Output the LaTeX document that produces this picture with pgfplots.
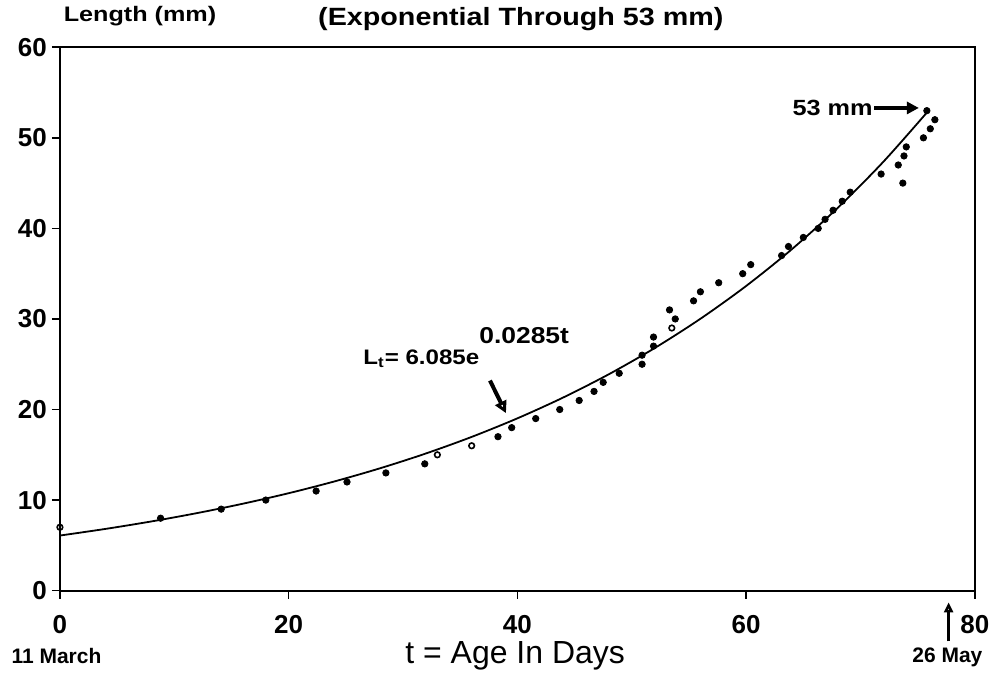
\documentclass[border=0pt]{standalone}
\usepackage{fontspec}
\setmainfont{Liberation Sans}
\newfontfamily\widefont[FakeStretch=1.15]{Liberation Sans}
\newfontfamily\wwidefont[FakeStretch=1.2]{Liberation Sans}
\usepackage{pgfplots}
\pgfplotsset{compat=1.18}
\usetikzlibrary{arrows.meta}
\begin{document}
\begin{tikzpicture}
\begin{axis}[
  at={(0,0)}, anchor=south west,
  scale only axis, width=458pt, height=272pt,
  xmin=0, xmax=80, ymin=0, ymax=60,
  xtick={0,20,40,60,80}, ytick={0,10,20,30,40,50,60},
  axis line style={line width=1pt},
  every tick/.style={black, line width=0.8pt},
  tick align=outside, major tick length=4pt,
  xtick pos=bottom, ytick pos=left,
  clip=false,
  /pgf/number format/assume math mode=true,
  ticklabel style={font=\bfseries\fontsize{13}{14}\selectfont},
  xticklabel style={yshift=-5pt},
  yticklabel style={xshift=1pt},
]
% fitted curve L = 6.085 exp(0.0285 t), values tabulated
\addplot[black, line width=0.9pt, smooth] coordinates {
 (0,6.085) (4,6.820) (8,7.643) (12,8.566) (16,9.601) (20,10.760)
 (24,12.059) (28,13.515) (32,15.147) (36,16.976) (40,19.027)
 (44,21.324) (48,23.899) (52,26.785) (56,30.019) (60,33.644)
 (64,37.706) (68,42.259) (72,47.362) (76,53.081)
};
% observed lengths (filled)
\addplot[only marks, mark=*, mark size=1.6pt, black] coordinates {
 (8.8,8) (14.1,9) (18.0,10) (22.4,11) (25.1,12) (28.5,13) (31.9,14)
 (38.3,17) (39.5,18) (41.6,19) (43.7,20) (45.4,21) (46.7,22) (47.5,23)
 (48.9,24) (50.9,25) (50.9,26) (51.9,27) (51.9,28) (53.8,30) (53.3,31)
 (55.4,32) (56.0,33) (57.6,34) (59.7,35) (60.4,36) (63.1,37) (63.7,38)
 (65.0,39) (66.3,40) (66.9,41) (67.6,42) (68.4,43) (69.1,44) (73.7,45)
 (71.8,46) (73.3,47) (73.8,48) (74.0,49) (75.5,50) (76.1,51) (76.5,52)
 (75.8,53)
};
% observed lengths (open)
\addplot[only marks, mark=o, mark size=1.4pt, black, line width=0.8pt] coordinates {
 (0,7) (33.0,15) (36.0,16) (53.5,29)
};
% annotations
\node[anchor=center, font=\wwidefont\bfseries\fontsize{10.5}{12}\selectfont] at (axis cs:7.0,63.4) {Length (mm)};
\node[anchor=center, font=\widefont\bfseries\fontsize{12.5}{14}\selectfont] at (axis cs:40.3,63.1) {(Exponential Through 53 mm)};
\node[anchor=base west, inner sep=0pt, font=\widefont\bfseries\fontsize{10.5}{12}\selectfont] at (axis cs:26.5,25.0) {L\textsubscript{t}= 6.085e\raisebox{10.5pt}{\fontsize{11.5}{12}\selectfont 0.0285t}};
\draw[line width=2pt, -{Triangle[open, length=6pt, width=6pt]}] (axis cs:37.6,23.2) -- (axis cs:39.0,19.6);
\node[anchor=east, inner sep=0pt, font=\widefont\bfseries\fontsize{11}{12}\selectfont] at (axis cs:71.1,53.3) {53 mm};
\draw[line width=1.6pt, -{Triangle[length=6pt, width=6pt]}] (axis cs:71.2,53.3) -- (axis cs:75.1,53.3);
\draw[line width=1.3pt, -{Triangle[open, length=5pt, width=4.5pt]}] (axis cs:77.7,-5.6) -- (axis cs:77.7,-1.3);
\node[anchor=center, font=\bfseries\fontsize{10.5}{12}\selectfont] at (axis cs:-0.3,-7.2) {11 March};
\node[anchor=center, font=\bfseries\fontsize{10.5}{12}\selectfont] at (axis cs:77.6,-7.4) {26 May};
\node[anchor=center, font=\fontsize{16}{18}\selectfont] at (axis cs:39.8,-7.2) {t = Age In Days};
\end{axis}
\path (-30pt,-46pt) rectangle (468pt,295pt);
\end{tikzpicture}
\end{document}
